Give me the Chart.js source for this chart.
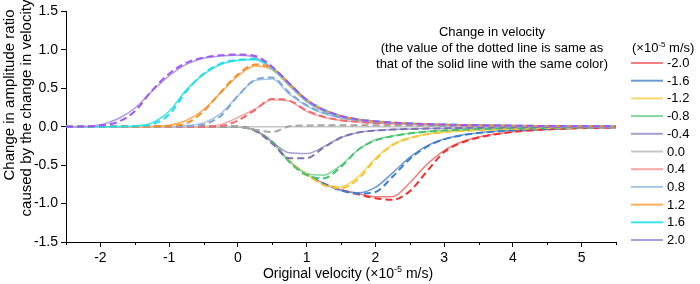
<!DOCTYPE html>
<html><head><meta charset="utf-8">
<script src="https://cdn.jsdelivr.net/npm/chart.js@4.4.1/dist/chart.umd.min.js"></script>
<style>html,body{margin:0;padding:0;background:#fff}canvas{display:block}</style>
</head><body>
<canvas id="c" width="700" height="284" style="width:700px;height:284px"></canvas>
<script>
// ---- data ----
const xValues = [-2.5,-2.25,-2,-1.75,-1.5,-1.25,-1,-0.75,-0.5,-0.25,0,0.25,0.5,0.75,1,1.25,1.5,1.75,2,2.25,2.5,2.75,3,3.25,3.5,3.75,4,4.25,4.5,4.75,5,5.25,5.5];
const changeLabels = ['-2.0','-1.6','-1.2','-0.8','-0.4','0.0','0.4','0.8','1.2','1.6','2.0'];
const xTickValues = [-2,-1,0,1,2,3,4,5];
const yTickValues = [-1.5,-1,-0.5,0,0.5,1,1.5];

const solidM20 = [0,0,0,0,0,0,0,0,0,0,0,-0.05,-0.2,-0.45,-0.62,-0.74,-0.82,-0.87,-0.91,-0.91,-0.73,-0.49,-0.31,-0.2,-0.135,-0.095,-0.065,-0.047,-0.035,-0.026,-0.019,-0.014,-0.01];
const solidM16 = [0,0,0,0,0,0,0,0,0,0,0,-0.05,-0.2,-0.45,-0.62,-0.74,-0.83,-0.86,-0.79,-0.6,-0.4,-0.25,-0.16,-0.11,-0.08,-0.06,-0.045,-0.035,-0.027,-0.02,-0.015,-0.011,-0.008];
const solidM12 = [0,0,0,0,0,0,0,0,0,0,0,-0.05,-0.2,-0.45,-0.62,-0.75,-0.78,-0.65,-0.41,-0.23,-0.145,-0.095,-0.07,-0.055,-0.044,-0.035,-0.028,-0.022,-0.017,-0.013,-0.01,-0.008,-0.006];
const solidM08 = [0,0,0,0,0,0,0,0,0,0,0,-0.05,-0.2,-0.45,-0.61,-0.63,-0.5,-0.3,-0.17,-0.12,-0.085,-0.063,-0.048,-0.038,-0.03,-0.024,-0.019,-0.015,-0.012,-0.009,-0.007,-0.005,-0.004];
const solidM04 = [0,0,0,0,0,0,0,0,0,0,0,-0.05,-0.2,-0.34,-0.35,-0.26,-0.14,-0.075,-0.05,-0.037,-0.03,-0.025,-0.02,-0.016,-0.013,-0.01,-0.008,-0.006,-0.005,-0.004,-0.003,-0.002,-0.002];
const solidZ00 = [0,0,0,0,0,0,0,0,0,0,0,0,0,0,0,0,0,0,0,0,0,0,0,0,0,0,0,0,0,0,0,0,0];
const solidP04 = [0,0,0,0,0,0,0,0,0.003,0.03,0.12,0.23,0.35,0.33,0.2,0.12,0.08,0.06,0.045,0.036,0.03,0.025,0.02,0.016,0.013,0.011,0.009,0.007,0.006,0.005,0.004,0.003,0.002];
const solidP08 = [0,0,0,0,0,0,0.005,0.015,0.05,0.17,0.4,0.6,0.62,0.42,0.27,0.17,0.11,0.08,0.06,0.045,0.036,0.03,0.024,0.02,0.016,0.013,0.011,0.009,0.007,0.005,0.004,0.003,0.002];
const solidP12 = [0,0,0,0,0,0.005,0.02,0.08,0.22,0.44,0.66,0.79,0.74,0.53,0.325,0.2,0.125,0.086,0.062,0.048,0.038,0.03,0.025,0.02,0.016,0.013,0.011,0.009,0.007,0.006,0.005,0.004,0.003];
const solidP16 = [0,0,0,0.003,0.01,0.05,0.2,0.48,0.68,0.81,0.86,0.87,0.75,0.54,0.33,0.205,0.128,0.088,0.064,0.049,0.039,0.031,0.025,0.02,0.016,0.013,0.011,0.009,0.007,0.006,0.005,0.004,0.003];
const solidP20 = [0,0.003,0.025,0.1,0.24,0.46,0.66,0.81,0.89,0.92,0.93,0.9,0.76,0.55,0.34,0.21,0.13,0.09,0.065,0.05,0.04,0.032,0.026,0.021,0.017,0.014,0.012,0.01,0.008,0.006,0.005,0.004,0.003];

const dashM20 = [0,0,0,0,0,0,0,0,0,0,0,-0.05,-0.2,-0.45,-0.62,-0.74,-0.82,-0.88,-0.93,-0.95,-0.84,-0.58,-0.33,-0.21,-0.14,-0.098,-0.068,-0.049,-0.036,-0.027,-0.02,-0.015,-0.011];
const dashM16 = [0,0,0,0,0,0,0,0,0,0,0,-0.05,-0.2,-0.45,-0.62,-0.74,-0.83,-0.87,-0.85,-0.65,-0.42,-0.26,-0.165,-0.113,-0.082,-0.062,-0.047,-0.036,-0.028,-0.021,-0.016,-0.012,-0.009];
const dashM12 = [0,0,0,0,0,0,0,0,0,0,0,-0.05,-0.2,-0.45,-0.62,-0.76,-0.8,-0.68,-0.43,-0.24,-0.15,-0.1,-0.072,-0.056,-0.045,-0.036,-0.029,-0.023,-0.018,-0.014,-0.011,-0.008,-0.006];
const dashM08 = [0,0,0,0,0,0,0,0,0,0,0,-0.05,-0.2,-0.46,-0.63,-0.67,-0.52,-0.3,-0.18,-0.125,-0.088,-0.065,-0.05,-0.039,-0.031,-0.025,-0.02,-0.016,-0.012,-0.009,-0.007,-0.005,-0.004];
const dashM04 = [0,0,0,0,0,0,0,0,0,0,0,-0.05,-0.22,-0.41,-0.41,-0.27,-0.14,-0.075,-0.05,-0.037,-0.03,-0.025,-0.02,-0.016,-0.013,-0.01,-0.008,-0.006,-0.005,-0.004,-0.003,-0.002,-0.002];
const dashZ00 = [0,0,0,0,0,0,0,0,0,0,0,-0.04,-0.07,0.005,0.015,0.02,0.02,0.02,0.018,0.016,0.014,0.012,0.01,0.009,0.008,0.007,0.006,0.005,0.004,0.003,0.003,0.002,0.002];
const dashP04 = [0,0,0,0,0,0,0,0,0,0.01,0.08,0.22,0.36,0.34,0.21,0.13,0.085,0.063,0.048,0.038,0.031,0.026,0.021,0.017,0.014,0.012,0.01,0.008,0.006,0.005,0.004,0.003,0.002];
const dashP08 = [0,0,0,0,0,0,0.002,0.008,0.03,0.14,0.4,0.61,0.64,0.44,0.28,0.18,0.12,0.085,0.063,0.048,0.038,0.031,0.025,0.021,0.017,0.014,0.012,0.01,0.008,0.006,0.005,0.004,0.003];
const dashP12 = [0,0,0,0,0,0.002,0.01,0.045,0.2,0.45,0.68,0.81,0.76,0.56,0.35,0.22,0.14,0.095,0.07,0.053,0.042,0.034,0.028,0.023,0.019,0.016,0.013,0.011,0.009,0.007,0.006,0.005,0.004];
const dashP16 = [0,0,0,0.002,0.006,0.03,0.16,0.46,0.69,0.82,0.87,0.88,0.77,0.56,0.35,0.22,0.14,0.095,0.07,0.053,0.042,0.034,0.028,0.023,0.019,0.016,0.013,0.011,0.009,0.007,0.006,0.005,0.004];
const dashP20 = [0,0.002,0.015,0.06,0.2,0.47,0.69,0.83,0.9,0.93,0.94,0.92,0.78,0.56,0.35,0.22,0.14,0.095,0.07,0.053,0.042,0.034,0.028,0.023,0.019,0.016,0.013,0.011,0.009,0.007,0.006,0.005,0.004];

const solidSeries = [solidM20,solidM16,solidM12,solidM08,solidM04,solidZ00,solidP04,solidP08,solidP12,solidP16,solidP20];
const dashSeries  = [dashM20,dashM16,dashM12,dashM08,dashM04,dashZ00,dashP04,dashP08,dashP12,dashP16,dashP20];

// ---- styles ----
const solidColors = ['#f27f7f','#6b9bd2','#f8d86a','#7fd79a','#a3a0cf','#c6c6c6','#f5a6a6','#a9c6e6','#f9ad5a','#3ae4ee','#ab9fdc'];
const dashColors  = ['#f02e2e','#3f7ec9','#f5c534','#45c26f','#7f72b4','#a6a6a6','#f06c6c','#7ea6d6','#f5902a','#22dcec','#a455f5'];
const FONT = '"Liberation Sans", Arial, Helvetica, sans-serif';

const toPts = arr => arr.map((y,i)=>({x:xValues[i], y}));
const datasets = [];
for (let i = dashSeries.length-1; i >= 0; i--) {
  datasets.push({label:changeLabels[i]+' dotted', data:toPts(dashSeries[i]), borderColor:dashColors[i],
    borderWidth:2, borderDash:[7,4], pointRadius:0, fill:false, cubicInterpolationMode:'monotone'});
}
for (let i = solidSeries.length-1; i >= 0; i--) {
  datasets.push({label:changeLabels[i], data:toPts(solidSeries[i]), borderColor:solidColors[i],
    borderWidth:1.5, pointRadius:0, fill:false, cubicInterpolationMode:'monotone'});
}

function drawRich(ctx, parts, x, y, align, size) {
  const w = parts.map(p => { ctx.font = (p[1]? Math.round(size*0.62) : size) + 'px ' + FONT; return ctx.measureText(p[0]).width; });
  const total = w.reduce((a,b)=>a+b,0);
  let cx = align==='center' ? x - total/2 : (align==='right' ? x - total : x);
  ctx.textAlign = 'left';
  parts.forEach((p,i)=>{
    ctx.font = (p[1]? Math.round(size*0.62) : size) + 'px ' + FONT;
    ctx.textBaseline = 'alphabetic';
    ctx.fillText(p[0], cx, p[1] ? y - size*0.42 : y);
    cx += w[i];
  });
}

const decor = {
  id:'decor',
  afterDraw(chart){
    const ctx = chart.ctx, xs = chart.scales.x, ys = chart.scales.y;
    ctx.save();
    ctx.strokeStyle = '#000'; ctx.lineWidth = 1;
    for (let v = -2.5; v <= 5.5; v += 1) {
      const px = Math.round(xs.getPixelForValue(v)) + 0.5;
      ctx.beginPath(); ctx.moveTo(px, ys.bottom); ctx.lineTo(px, ys.bottom + 3); ctx.stroke();
    }
    ctx.fillStyle = '#000';
    ctx.textAlign = 'center'; ctx.textBaseline = 'middle';
    ctx.font = '15px ' + FONT;
    ctx.save(); ctx.translate(10, 95); ctx.rotate(-Math.PI/2); ctx.fillText('Change in amplitude ratio', 0, 0); ctx.restore();
    ctx.save(); ctx.translate(27, 108); ctx.rotate(-Math.PI/2); ctx.fillText('caused by the change in velocity', 0, 0); ctx.restore();
    drawRich(ctx, [['Original velocity (×10',false],['-5',true],[' m/s)',false]], 348, 278, 'center', 14);
    ctx.font = '13px ' + FONT; ctx.textAlign = 'center'; ctx.textBaseline = 'alphabetic';
    ctx.fillText('Change in velocity', 492, 36);
    ctx.fillText('(the value of the dotted line is same as', 492, 52);
    ctx.fillText('that of the solid line with the same color)', 492, 68);
    drawRich(ctx, [['(×10',false],['-5',true],[' m/s)',false]], 632, 52, 'left', 13);
    ctx.font = '13px ' + FONT; ctx.textAlign = 'left'; ctx.textBaseline = 'middle';
    changeLabels.forEach((lab,i)=>{
      const y = 63 + i*17.7;
      ctx.strokeStyle = solidColors[i]; ctx.lineWidth = 2;
      ctx.beginPath(); ctx.moveTo(631, y); ctx.lineTo(663, y); ctx.stroke();
      ctx.fillStyle = '#000'; ctx.fillText(lab, 667, y+0.5);
    });
    ctx.restore();
  }
};

new Chart(document.getElementById('c'), {
  type:'line',
  data:{datasets},
  options:{
    responsive:false, animation:false, devicePixelRatio:1,
    layout:{padding:{left:0, right:84, top:8, bottom:0}},
    plugins:{legend:{display:false}, tooltip:{enabled:false}},
    elements:{line:{borderCapStyle:'butt'}},
    scales:{
      x:{type:'linear', min:-2.5, max:5.5,
        afterBuildTicks:s=>{ s.ticks = xTickValues.map(v=>({value:v})); },
        afterFit:s=>{ s.height = 42; },
        ticks:{color:'#000', font:{family:FONT, size:14}, padding:3, maxRotation:0, autoSkip:false, callback:v=>String(v)},
        grid:{drawOnChartArea:false, drawTicks:true, tickLength:5, color:'#000'},
        border:{color:'#000', width:1}},
      y:{type:'linear', min:-1.5, max:1.5,
        afterBuildTicks:s=>{ s.ticks = yTickValues.map(v=>({value:v})); },
        afterFit:s=>{ s.width = 66; },
        ticks:{color:'#000', font:{family:FONT, size:14}, padding:3, callback:v=>Number(v).toFixed(1)},
        grid:{drawOnChartArea:false, drawTicks:true, tickLength:5, color:'#000'},
        border:{color:'#000', width:1}}
    }
  },
  plugins:[decor]
});
</script>
</body></html>
